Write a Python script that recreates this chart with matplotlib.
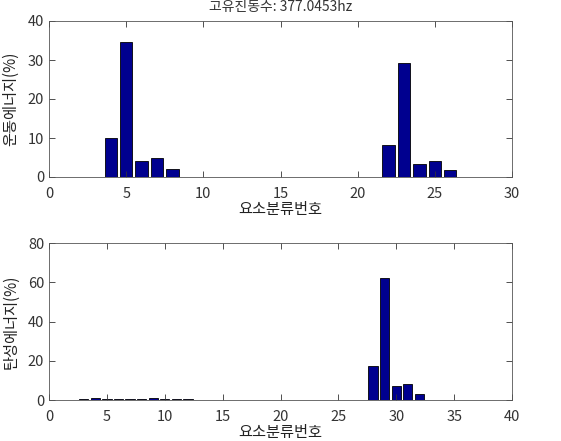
import matplotlib
matplotlib.use("Agg")
import matplotlib.pyplot as plt

plt.rcParams['font.family'] = ['Noto Sans CJK KR', 'DejaVu Sans']

title = "고유진동수: 377.0453hz"
xlabel = "요소분류번호"
ylabel_top = "운동에너지(%)"
ylabel_bot = "탄성에너지(%)"

top_x = [4, 5, 6, 7, 8, 22, 23, 24, 25, 26]
top_y = [10.0, 34.7, 4.0, 4.8, 2.0, 8.2, 29.2, 3.4, 4.0, 1.7]

bot_x = [3, 4, 5, 6, 7, 8, 9, 10, 11, 12, 28, 29, 30, 31, 32]
bot_y = [0.4, 1.0, 0.5, 0.4, 0.4, 0.4, 1.0, 0.5, 0.4, 0.4, 17.5, 62.0, 7.2, 8.3, 3.3]

bar_color = "#00008f"
W, H = 561, 441
fig = plt.figure(figsize=(W / 100, H / 100), dpi=100)

def make_ax(left, top, right, bottom):
    return fig.add_axes([left / W, 1 - bottom / H, (right - left) / W, (bottom - top) / H])

ax1 = make_ax(49, 21, 512, 177)
ax2 = make_ax(49, 243, 512, 400)

for ax, xs, ys, xlim, ylim, yt, yl in [
    (ax1, top_x, top_y, (0, 30), (0, 40), [0, 10, 20, 30, 40], ylabel_top),
    (ax2, bot_x, bot_y, (0, 40), (0, 80), [0, 20, 40, 60, 80], ylabel_bot),
]:
    ax.bar(xs, ys, width=0.8, color=bar_color, edgecolor="black", linewidth=0.6)
    ax.set_xlim(*xlim)
    ax.set_ylim(*ylim)
    ax.set_yticks(yt)
    ax.set_xticks(range(xlim[0], xlim[1] + 1, 5))
    ax.tick_params(direction="in", top=True, right=True, length=4, labelsize=10.5,
                   colors="#333333", width=0.6)
    ax.tick_params(axis="x", pad=7)
    for s in ax.spines.values():
        s.set_linewidth(0.6)
        s.set_color("#555555")
    ax.set_xlabel(xlabel, fontsize=11, labelpad=0, color="#222222")
    ax.set_ylabel(yl, fontsize=11, labelpad=6, color="#222222")

fig.text(0.5, 1 - 7 / H, title, ha="center", va="center", fontsize=10, color="#333333")

fig.savefig("out.png", dpi=100, facecolor="white")
